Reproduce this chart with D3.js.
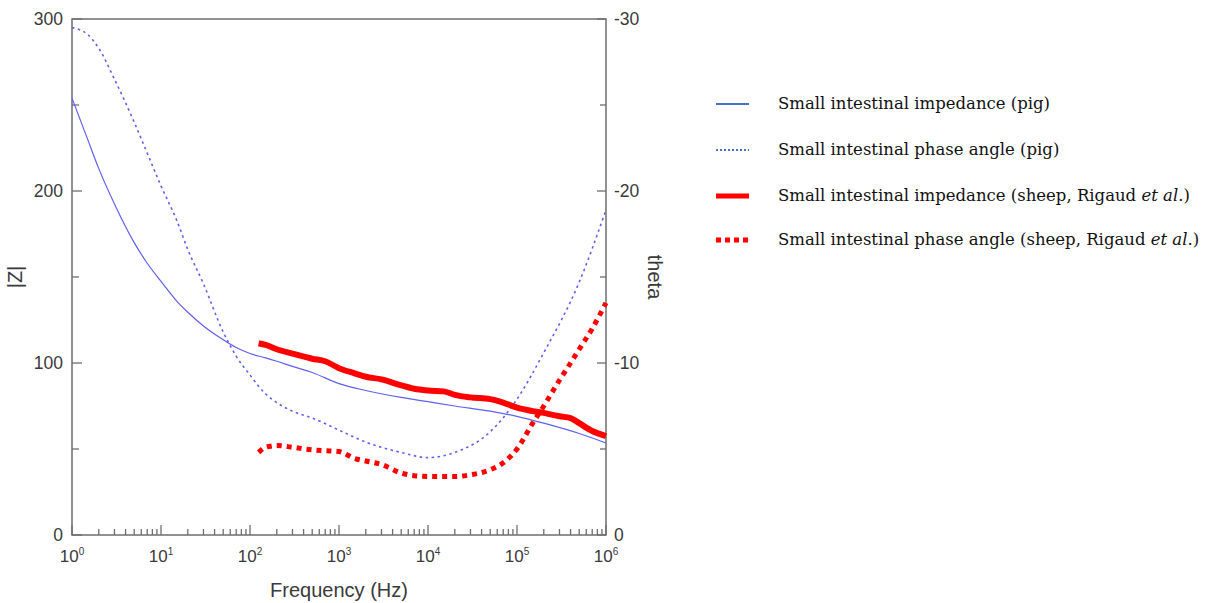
<!DOCTYPE html>
<html>
<head>
<meta charset="utf-8">
<script src="https://cdn.jsdelivr.net/npm/d3@7"></script>
<style>
  html, body { margin: 0; padding: 0; background: #fff; }
  svg { display: block; }
</style>
</head>
<body>
<svg id="chart" width="1211" height="603"></svg>
<script>
// Pig small intestine (frequency in Hz, |Z| in ohm, theta in degrees)
const pigFreq  = [1, 1.5, 2, 3, 5, 7, 10, 15, 20, 30, 50, 70, 100, 150, 200, 300, 500, 1e3, 2e3, 5e3, 1e4, 2e4, 5e4, 1e5, 2e5, 5e5, 1e6];
const pigZ     = [254, 230, 213, 192.5, 170, 158, 147.5, 136, 129.5, 121.5, 113.5, 109, 105.5, 103, 101, 98, 94.5, 88, 84, 80, 77.5, 75, 72, 69, 65, 59, 53.5];
const pigTheta = [-29.5, -29.1, -28.3, -26.5, -24, -22.2, -20.3, -18.3, -16.6, -14.6, -11.8, -10.4, -9.3, -8.2, -7.7, -7.2, -6.8, -6.1, -5.4, -4.8, -4.5, -4.8, -6.0, -7.9, -10.6, -14.7, -18.9];

// Sheep small intestine (Rigaud et al.)
const sheepFreq  = [125, 150, 200, 300, 500, 700, 1e3, 1.5e3, 2e3, 3e3, 5e3, 7e3, 1e4, 1.5e4, 2e4, 3e4, 5e4, 7e4, 1e5, 1.5e5, 2e5, 3e5, 4e5, 5e5, 7e5, 1e6];
const sheepZ     = [111.5, 110.5, 108, 105.5, 102.5, 101, 97, 94, 92, 90.5, 87, 85, 84, 83.5, 81.5, 80, 79, 77, 74, 72, 71, 69, 68, 65, 60.5, 57.5];
const sheepTheta = [-4.8, -5.1, -5.2, -5.1, -4.95, -4.9, -4.85, -4.45, -4.3, -4.1, -3.6, -3.45, -3.4, -3.4, -3.4, -3.5, -3.8, -4.2, -5.0, -6.5, -7.5, -9.0, -10.0, -10.8, -12.0, -13.5];

const zTicks = [0, 100, 200, 300];
const thetaTicks = [0, -10, -20, -30];
const decades = [0, 1, 2, 3, 4, 5, 6];

const legendItems = [
  { label: "Small intestinal impedance (pig)", color: "#4472c4", width: 2, dash: null, ref: false },
  { label: "Small intestinal phase angle (pig)", color: "#4472c4", width: 2, dash: "2,2", ref: false },
  { label: "Small intestinal impedance (sheep, Rigaud ", color: "#ff0000", width: 5, dash: null, ref: true },
  { label: "Small intestinal phase angle (sheep, Rigaud ", color: "#ff0000", width: 5, dash: "5,4", ref: true }
];

const svg = d3.select("#chart");
const pL = 72, pR = 606, pT = 19, pB = 535;
const axisColor = "#6e6e6e";
const textColor = "#3a3a3a";
const lineBlue = "#6060f2";
const sans = "Liberation Sans, Arial, sans-serif";

const x = d3.scaleLog().domain([1, 1e6]).range([pL, pR]);
const yZ = d3.scaleLinear().domain([0, 300]).range([pB, pT]);
const yT = d3.scaleLinear().domain([0, -30]).range([pB, pT]);

// Frame
svg.append("rect")
  .attr("x", pL).attr("y", pT)
  .attr("width", pR - pL).attr("height", pB - pT)
  .attr("fill", "none").attr("stroke", axisColor).attr("stroke-width", 1.5);

// X ticks (inward), majors per decade plus 2..9 minors
const xt = svg.append("g");
decades.forEach(d => {
  const f = Math.pow(10, d);
  xt.append("line").attr("x1", x(f)).attr("x2", x(f))
    .attr("y1", pB).attr("y2", pB - 10)
    .attr("stroke", axisColor).attr("stroke-width", 1.3);
  if (d < 6) {
    for (let m = 2; m <= 9; m++) {
      const v = m * f;
      xt.append("line").attr("x1", x(v)).attr("x2", x(v))
        .attr("y1", pB).attr("y2", pB - 6)
        .attr("stroke", axisColor).attr("stroke-width", 1.3);
    }
  }
  const t = xt.append("text").attr("x", x(f)).attr("y", 562)
    .attr("text-anchor", "middle")
    .attr("font-family", sans)
    .attr("font-size", 17).attr("fill", textColor);
  t.append("tspan").text("10");
  t.append("tspan").attr("dy", -7).attr("font-size", 10).text(d);
});

// Left axis ticks
d3.range(0, 301, 50).forEach(v => {
  const major = v % 100 === 0;
  svg.append("line").attr("x1", pL).attr("x2", pL + (major ? 10 : 7))
    .attr("y1", yZ(v)).attr("y2", yZ(v))
    .attr("stroke", axisColor).attr("stroke-width", 1.3);
});
zTicks.forEach(v => {
  svg.append("text").attr("x", 63).attr("y", yZ(v) + 6)
    .attr("text-anchor", "end")
    .attr("font-family", sans)
    .attr("font-size", 17.5).attr("fill", textColor).text(v);
});

// Right axis ticks
d3.range(0, -31, -5).forEach(v => {
  const major = v % 10 === 0;
  svg.append("line").attr("x1", pR).attr("x2", pR - (major ? 9 : 6))
    .attr("y1", yT(v)).attr("y2", yT(v))
    .attr("stroke", axisColor).attr("stroke-width", 1.3);
});
thetaTicks.forEach(v => {
  svg.append("text").attr("x", 614).attr("y", yT(v) + 6)
    .attr("text-anchor", "start")
    .attr("font-family", sans)
    .attr("font-size", 17.5).attr("fill", textColor).text(v);
});

// Axis titles
svg.append("text").attr("transform", "translate(22,277) rotate(-90)")
  .attr("text-anchor", "middle")
  .attr("font-family", sans)
  .attr("font-size", 20).attr("fill", textColor).text("|Z|");
svg.append("text").attr("transform", "translate(648,277) rotate(90)")
  .attr("text-anchor", "middle")
  .attr("font-family", sans)
  .attr("font-size", 20).attr("fill", textColor).text("theta");
svg.append("text").attr("x", 339).attr("y", 597)
  .attr("text-anchor", "middle")
  .attr("font-family", sans)
  .attr("font-size", 20).attr("fill", textColor).text("Frequency (Hz)");

// Series
const plot = svg.append("g");
const lineZ = d3.line().curve(d3.curveMonotoneX).x(d => x(d[0])).y(d => yZ(d[1]));
const lineT = d3.line().curve(d3.curveMonotoneX).x(d => x(d[0])).y(d => yT(d[1]));

plot.append("path").datum(d3.zip(pigFreq, pigZ)).attr("d", lineZ)
  .attr("fill", "none").attr("stroke", lineBlue).attr("stroke-width", 1.2);
plot.append("path").datum(d3.zip(pigFreq, pigTheta)).attr("d", lineT)
  .attr("fill", "none").attr("stroke", lineBlue).attr("stroke-width", 1.6)
  .attr("stroke-dasharray", "2.5,3.5");
plot.append("path").datum(d3.zip(sheepFreq, sheepZ)).attr("d", lineZ)
  .attr("fill", "none").attr("stroke", "#ff0000").attr("stroke-width", 6)
  .attr("stroke-linejoin", "round");
plot.append("path").datum(d3.zip(sheepFreq, sheepTheta)).attr("d", lineT)
  .attr("fill", "none").attr("stroke", "#ff0000").attr("stroke-width", 5)
  .attr("stroke-dasharray", "5,5");

// Legend
const legY = [104, 150, 196, 240];
legendItems.forEach((it, i) => {
  const g = svg.append("g");
  g.append("line").attr("x1", 716).attr("x2", 749)
    .attr("y1", legY[i]).attr("y2", legY[i])
    .attr("stroke", it.color).attr("stroke-width", it.width)
    .attr("stroke-dasharray", it.dash);
  const t = g.append("text").attr("x", 778).attr("y", legY[i] + 5)
    .attr("font-family", "DejaVu Serif, serif")
    .attr("font-size", 16.5).attr("fill", "#111");
  t.append("tspan").text(it.label);
  if (it.ref) {
    t.append("tspan").attr("font-style", "italic").text("et al");
    t.append("tspan").text(".)");
  }
});
</script>
</body>
</html>
